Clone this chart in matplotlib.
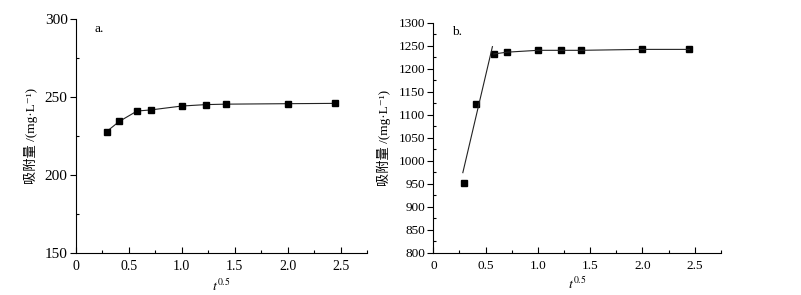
import matplotlib
matplotlib.use("Agg")
import matplotlib.pyplot as plt
from matplotlib.ticker import MultipleLocator, FuncFormatter

plt.rcParams['font.family'] = ['Liberation Serif', 'Noto Sans CJK SC', 'DejaVu Serif']
plt.rcParams['mathtext.fontset'] = 'stix'
plt.rcParams['font.size'] = 9

# --- data ---
t_sqrt = [0.289, 0.408, 0.577, 0.707, 1.0, 1.225, 1.414, 2.0, 2.449]
uptake_a = [228.0, 234.5, 241.2, 241.9, 244.4, 245.3, 245.6, 245.9, 246.1]
uptake_b = [952, 1123, 1232, 1236, 1240, 1240, 1240, 1242, 1242]

# linear fit segment drawn on panel b (first stage)
fit_x = [0.282, 0.565]
fit_y = [974, 1248]

ylabel = '吸附量 /(mg·L⁻¹)'
xlabel = '$t^{0.5}$'


def fmt_x(v, pos):
    return '0' if abs(v) < 1e-9 else f'{v:.1f}'


def style_axes(ax, ymin, ymax, label, tick_fs, ytick_fs):
    ax.set_xlim(0, 2.75)
    ax.set_ylim(ymin, ymax)
    for side in ('top', 'right'):
        ax.spines[side].set_visible(False)
    for side in ('left', 'bottom'):
        ax.spines[side].set_linewidth(0.8)
    ax.xaxis.set_major_locator(MultipleLocator(0.5))
    ax.xaxis.set_minor_locator(MultipleLocator(0.25))
    ax.xaxis.set_major_formatter(FuncFormatter(fmt_x))
    ax.yaxis.set_major_locator(MultipleLocator(50))
    ax.yaxis.set_minor_locator(MultipleLocator(25))
    ax.tick_params(axis='x', which='major', direction='in', length=4, width=0.8,
                   pad=5, labelsize=tick_fs)
    ax.tick_params(axis='x', which='minor', direction='in', length=2, width=0.8)
    ax.tick_params(axis='y', which='major', direction='out', length=4, width=0.8,
                   pad=2, labelsize=ytick_fs)
    ax.tick_params(axis='y', which='minor', direction='in', length=2.5, width=0.8)
    ax.set_xlabel(xlabel, fontsize=10, labelpad=3)
    ax.set_ylabel(ylabel, fontsize=9.5, labelpad=5)
    ax.text(0.065, 0.985, label, transform=ax.transAxes, ha='left', va='top', fontsize=9.5)


fig = plt.figure(figsize=(8.01, 2.95), dpi=100)
ax1 = fig.add_axes([0.0949, 0.1414, 0.3633, 0.7932])
ax2 = fig.add_axes([0.541, 0.1434, 0.359, 0.7796])

# panel a
ax1.plot(t_sqrt, uptake_a, color='#222222', linewidth=0.8,
         marker='s', markersize=4.5, markerfacecolor='black', markeredgecolor='black')
style_axes(ax1, 150, 300, 'a.', 10, 11)

# panel b
ax2.plot(t_sqrt, uptake_b, linestyle='none',
         marker='s', markersize=4.5, markerfacecolor='black', markeredgecolor='black')
ax2.plot(t_sqrt[2:], uptake_b[2:], color='#222222', linewidth=0.8)
ax2.plot(fit_x, fit_y, color='#222222', linewidth=0.8)
style_axes(ax2, 800, 1300, 'b.', 9.5, 9.5)

fig.savefig('out.png', dpi=100)
